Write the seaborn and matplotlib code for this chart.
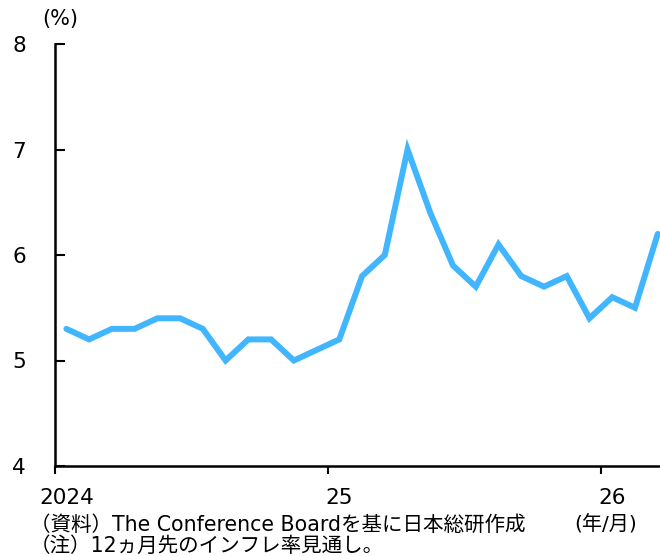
import matplotlib
matplotlib.use("Agg")
import matplotlib.pyplot as plt
import seaborn as sns
import pandas as pd

# monthly 12-month-ahead inflation expectations, Jan 2024 - Mar 2026
months = pd.period_range("2024-01", "2026-03", freq="M").astype(str).tolist()
values = [5.3, 5.2, 5.3, 5.3, 5.4, 5.4, 5.3, 5.0, 5.2, 5.2, 5.0, 5.1,
          5.2, 5.8, 6.0, 7.0, 6.4, 5.9, 5.7, 6.1, 5.8, 5.7, 5.8, 5.4,
          5.6, 5.5, 6.2]
year_labels = ["2024", "25", "26"]
y_ticks = [4, 5, 6, 7, 8]

sns.set_theme(style="white")
plt.rcParams["font.family"] = ["DejaVu Sans", "Noto Sans CJK JP"]
plt.rcParams["text.color"] = "black"
plt.rcParams["xtick.color"] = "black"
plt.rcParams["ytick.color"] = "black"

df = pd.DataFrame({"idx": range(len(months)), "month": months, "value": values})

fig = plt.figure(figsize=(6.6, 5.56), dpi=100)
ax = fig.add_axes([55 / 660, 1 - 466 / 556, 1 - 55 / 660, (466 - 44) / 556])

sns.lineplot(data=df, x="idx", y="value", ax=ax, color="#41B6FF",
             linewidth=4.3, solid_joinstyle="miter")

ax.set_xlim(-0.45, 26.1)
ax.set_ylim(4, 8)
ax.set_yticks(y_ticks)
ax.set_yticklabels([str(t) for t in y_ticks], fontsize=15.5)
ax.tick_params(axis="y", direction="in", length=7, width=1.5,
               pad=21, left=True)

# year boundaries as tick marks, labels centred on January
ax.set_xticks([-0.5, 11.5, 23.5], minor=True)
ax.set_xticks([0, 12, 24])
ax.set_xticklabels(year_labels, fontsize=15.5)
ax.tick_params(axis="x", which="minor", direction="out", length=6, width=1.5,
               bottom=True)
ax.tick_params(axis="x", which="major", length=0, pad=16)

ax.set_xlabel("")
ax.set_ylabel("")
for side in ["top", "right"]:
    ax.spines[side].set_visible(False)
for side in ["left", "bottom"]:
    ax.spines[side].set_color("black")
    ax.spines[side].set_linewidth(1.8)
ax.grid(False)

fig.text(60 / 660, 1 - 19 / 556, "(%)", fontsize=15, ha="center", va="center")
fig.text(606 / 660, 1 - 525 / 556, "(年/月)", fontsize=14.5, ha="center", va="center")
fig.text(30 / 660, 1 - 525 / 556, "（資料）The Conference Boardを基に日本総研作成",
         fontsize=14.8, ha="left", va="center")
fig.text(30 / 660, 1 - 546 / 556, "（注）12ヵ月先のインフレ率見通し。",
         fontsize=14.8, ha="left", va="center")

fig.savefig("out.png", dpi=100)
